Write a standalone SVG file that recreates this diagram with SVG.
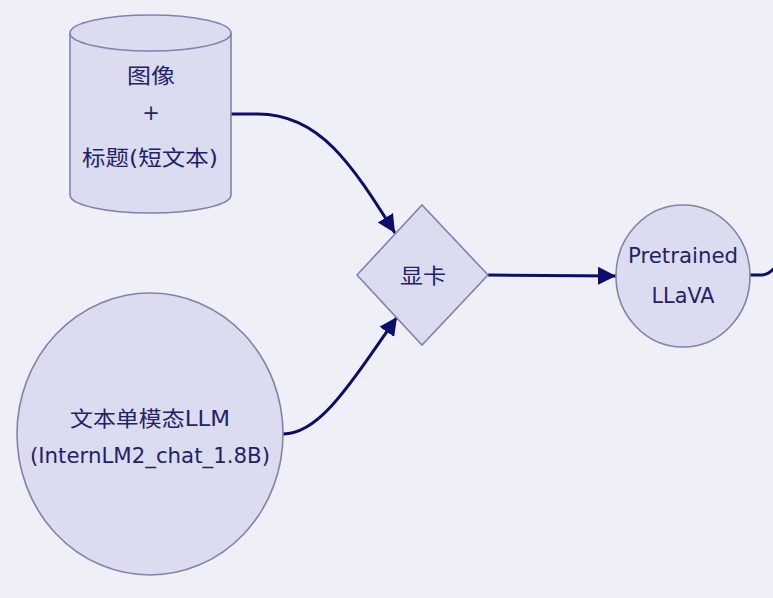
<svg xmlns="http://www.w3.org/2000/svg" width="773" height="598" viewBox="0 0 773 598">
<defs>
<style>
.node{fill:#dcdcf0;stroke:#8282aa;stroke-width:1.6}
.lbl{fill:#22226a;font-family:"DejaVu Sans","Noto Sans CJK SC",sans-serif;font-size:21px;text-anchor:middle}
.edge{fill:none;stroke:#0d0d6e;stroke-width:3}
</style>
<marker id="arr" markerUnits="userSpaceOnUse" markerWidth="20" markerHeight="20" refX="18" refY="9" orient="auto" viewBox="0 0 20 18">
<path d="M0,0 L18,9 L0,18 Z" fill="#0d0d6e"/>
</marker>
</defs>
<rect width="773" height="598" fill="#efeff8"/>
<g id="edges">
<path class="edge" d="M231,114 L258,114 C320,114 352,165 395,233" marker-end="url(#arr)"/>
<path class="edge" d="M283,434 C318,434 345,392 397,317" marker-end="url(#arr)"/>
<path class="edge" d="M488,275 L616,276" marker-end="url(#arr)"/>
<path class="edge" d="M750,275 L761,275 Q769,275 776,266"/>
</g>
<g id="node-data">
<path class="node" d="M70,33 A80.5,18 0 0 1 231,33 V195 A80.5,18 0 0 1 70,195 Z"/>
<path class="node" style="fill:none" d="M70,33 A80.5,18 0 0 0 231,33"/>
<text class="lbl" x="151" y="83" textLength="48" lengthAdjust="spacingAndGlyphs">图像</text>
<text class="lbl" x="151" y="120">+</text>
<text class="lbl" x="150" y="165" textLength="136" lengthAdjust="spacingAndGlyphs">标题(短文本)</text>
</g>
<g id="node-gpu">
<polygon class="node" points="357,275 422,205 488,275 422,345"/>
<text class="lbl" x="423" y="283" textLength="46" lengthAdjust="spacingAndGlyphs">显卡</text>
</g>
<g id="node-llava">
<ellipse class="node" cx="683" cy="276" rx="67" ry="71"/>
<text class="lbl" x="683" y="263" textLength="110" lengthAdjust="spacingAndGlyphs">Pretrained</text>
<text class="lbl" x="683" y="303" textLength="63" lengthAdjust="spacingAndGlyphs">LLaVA</text>
</g>
<g id="node-llm">
<ellipse class="node" cx="150" cy="434" rx="133" ry="141"/>
<text class="lbl" x="150" y="426" textLength="160" lengthAdjust="spacingAndGlyphs">文本单模态LLM</text>
<text class="lbl" x="150" y="463" textLength="240" lengthAdjust="spacingAndGlyphs">(InternLM2_chat_1.8B)</text>
</g>
</svg>
